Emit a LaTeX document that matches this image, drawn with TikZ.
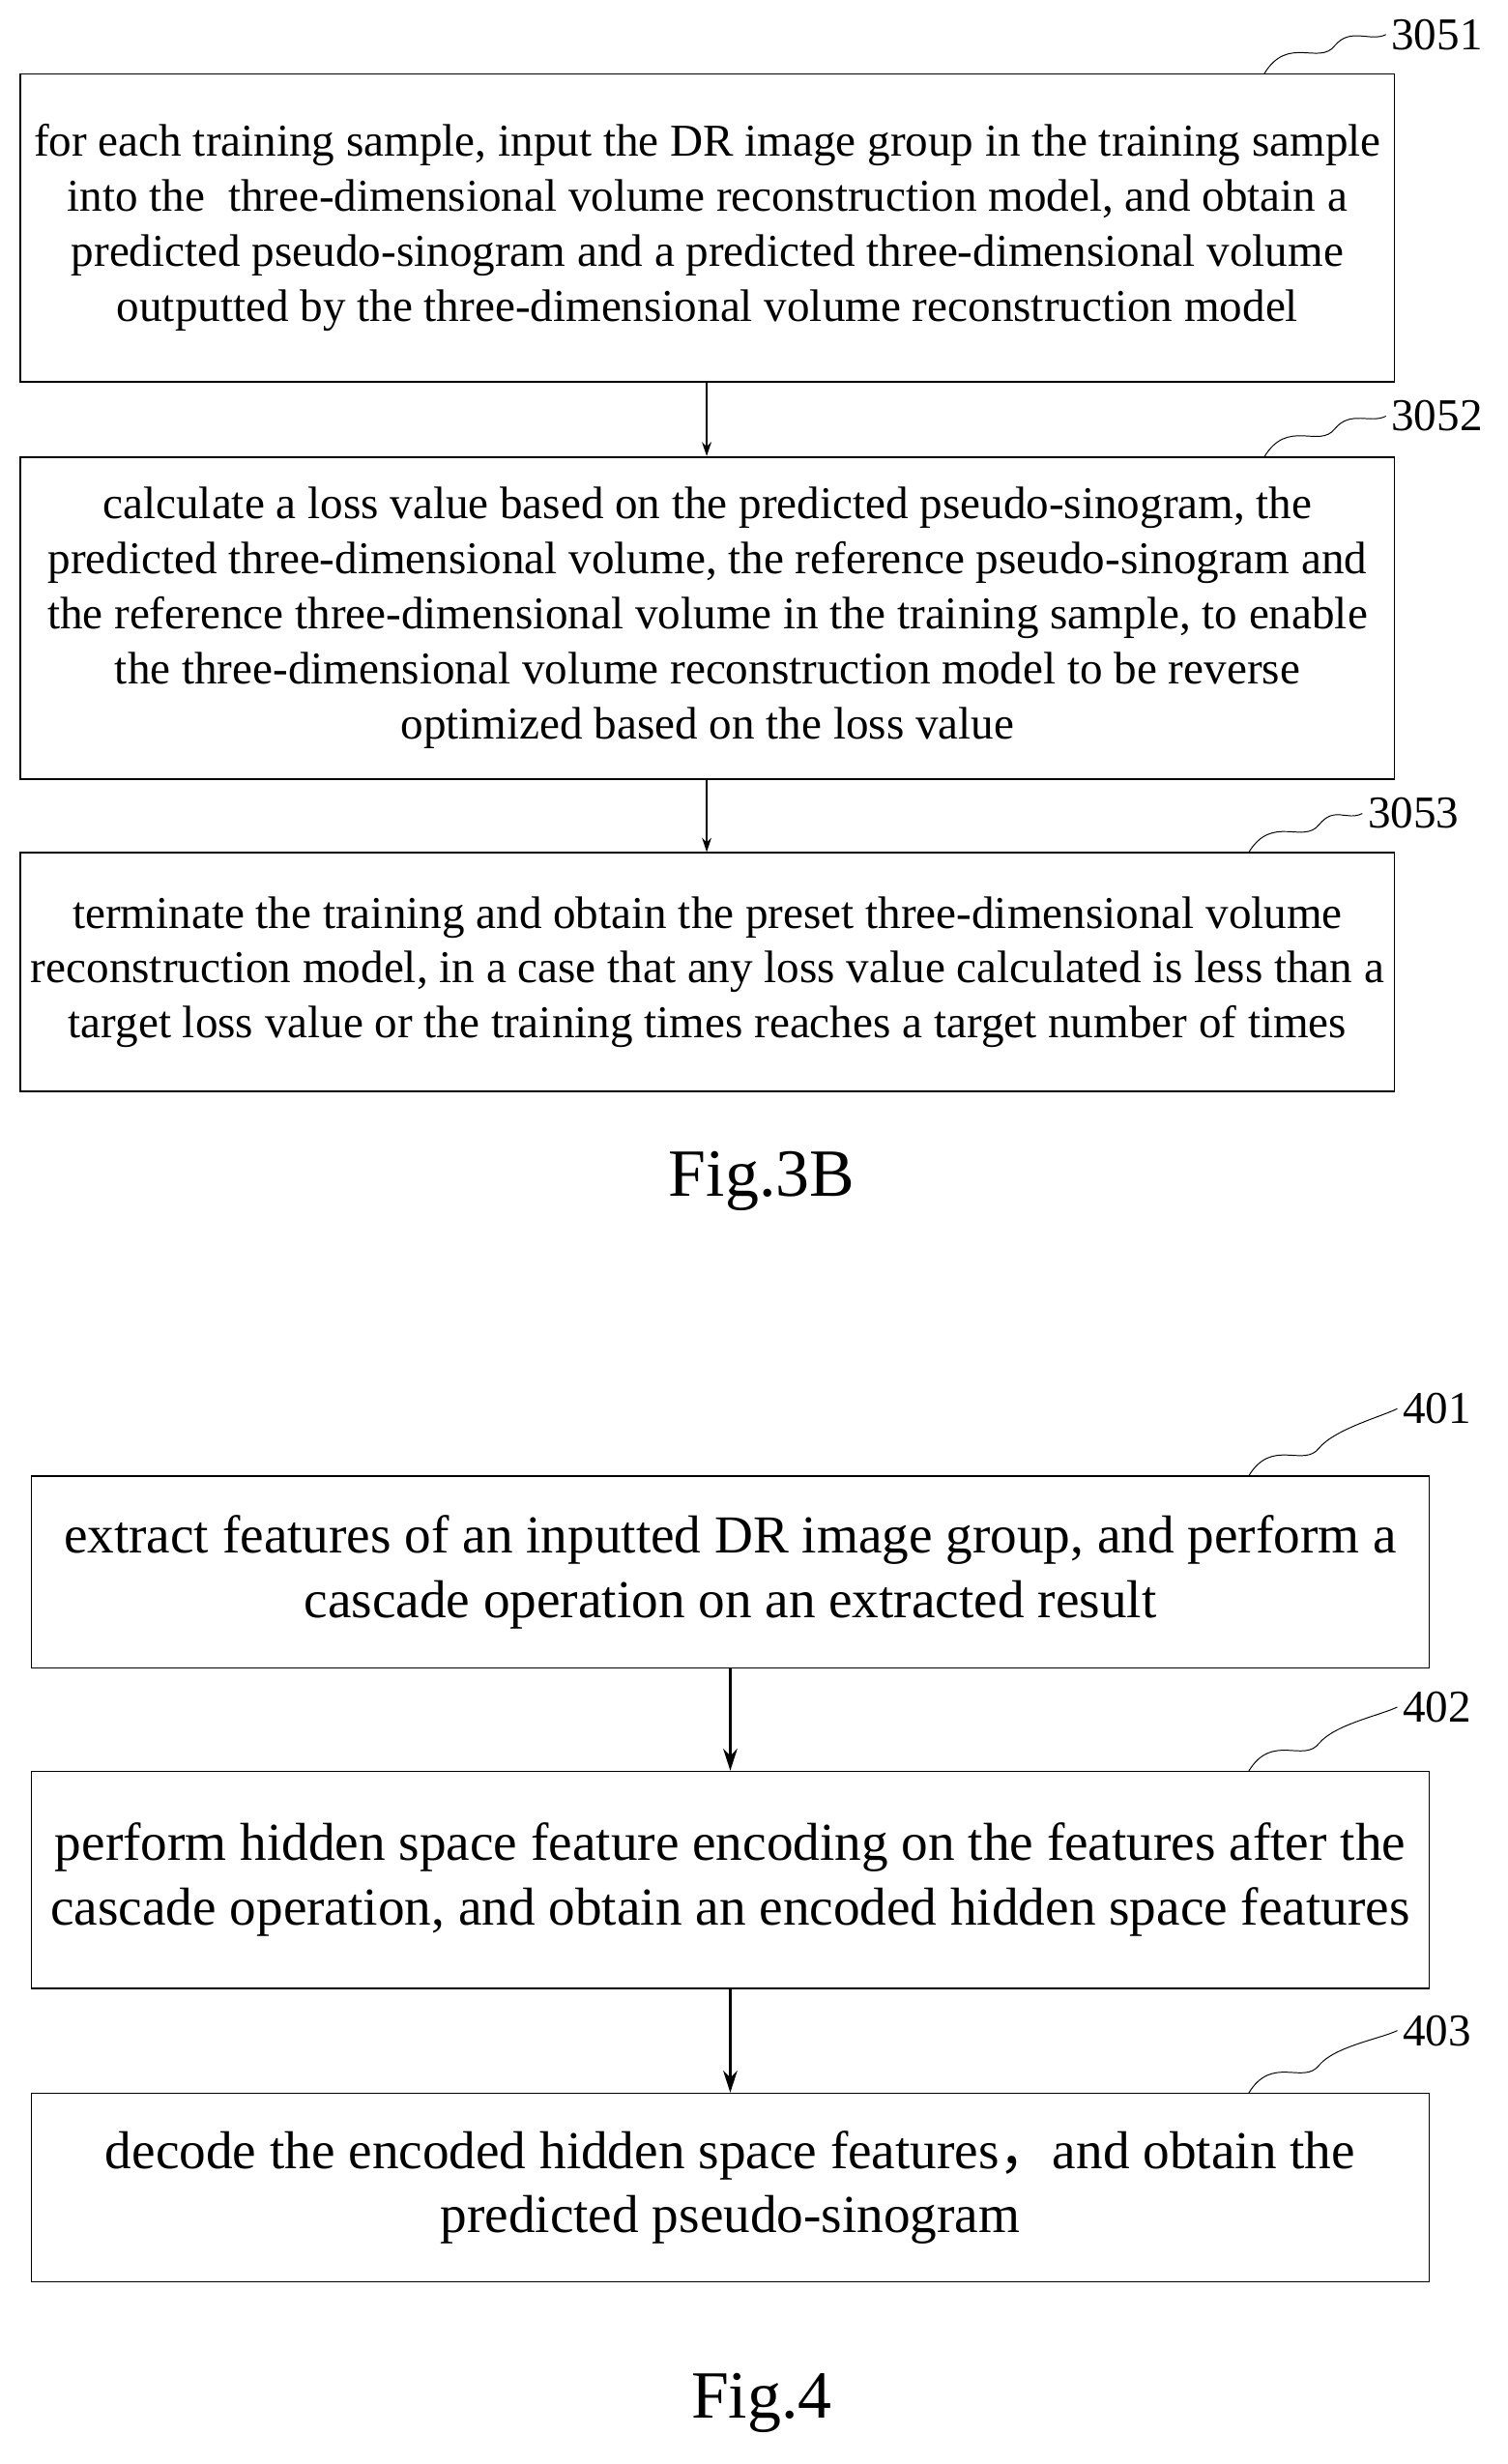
\documentclass[tikz,border=0pt]{standalone}
\usepackage{fontspec}
\setmainfont{Liberation Serif}
\newfontfamily\cjk{Noto Sans CJK SC}
\usetikzlibrary{arrows.meta,calc}
\begin{document}
\begin{tikzpicture}[x=1pt,y=-1pt,
  boxa/.style={draw,line width=1pt,minimum width=875pt,align=center,font=\fontsize{29}{35}\selectfont,inner sep=0pt},
  boxb/.style={draw,line width=1pt,minimum width=890pt,align=center,font=\fontsize{34}{41}\selectfont,inner sep=0pt},
  lbl/.style={font=\fontsize{29}{30}\selectfont},
  wav/.style={line width=0.6pt},
  arra/.style={-{Stealth[length=9pt,width=6pt]},line width=0.8pt},
  arrb/.style={-{Stealth[length=14pt,width=9pt]},line width=1.5pt}]
\useasboundingbox (0,0) rectangle (960,1569);
\node[boxa,minimum height=196pt] (b1) at (450.5,145) {for each training sample, input the DR image group in the training sample\\into the\ \ three-dimensional volume reconstruction model, and obtain a\\predicted pseudo-sinogram and a predicted three-dimensional volume\\outputted by the three-dimensional volume reconstruction model};
\node[boxa,minimum height=205pt] (b2) at (450.5,393.5) {calculate a loss value based on the predicted pseudo-sinogram, the\\predicted three-dimensional volume, the reference pseudo-sinogram and\\the reference three-dimensional volume in the training sample, to enable\\the three-dimensional volume reconstruction model to be reverse\\optimized based on the loss value};
\node[boxa,minimum height=152pt] (b3) at (450.5,619) {terminate the training and obtain the preset three-dimensional volume\\reconstruction model, in a case that any loss value calculated is less than a\\target loss value or the training times reaches a target number of times};
\node[font=\fontsize{43}{45}\selectfont] (f3) at (485,752) {Fig.3B};
\node[boxb,minimum height=122pt] (b4) at (465,1001) {extract features of an inputted DR image group, and perform a\\cascade operation on an extracted result};
\node[boxb,minimum height=138pt] (b5) at (465,1197) {perform hidden space feature encoding on the features after the\\cascade operation, and obtain an encoded hidden space features};
\node[boxb,minimum height=120pt] (b6) at (465,1393) {decode the encoded hidden space features{\cjk ，}and obtain the\\predicted pseudo-sinogram};
\node[font=\fontsize{43}{45}\selectfont] (f4) at (485,1530) {Fig.4};
\draw[arra] (b1.south -| 450,0) -- (b2.north -| 450,0);
\draw[arra] (b2.south -| 450,0) -- (b3.north -| 450,0);
\draw[arrb] (b4.south -| 465,0) -- (b5.north -| 465,0);
\draw[arrb] (b5.south -| 465,0) -- (b6.north -| 465,0);
\node[lbl] (l1) at (915,22) {3051};
\node[lbl] (l2) at (915,265) {3052};
\node[lbl] (l3) at (900,518) {3053};
\node[lbl] (l4) at (915,897) {401};
\node[lbl] (l5) at (915,1087) {402};
\node[lbl] (l6) at (915,1293) {403};
\coordinate (w1) at (805,47); \coordinate (w2) at (805,291); \coordinate (w3) at (795,543);
\coordinate (w4) at (795,940); \coordinate (w5) at (795,1128); \coordinate (w6) at (795,1333);
\foreach \w/\l in {w1/l1,w2/l2,w3/l3,w4/l4,w5/l5,w6/l6}{
  \draw[wav] (\w) .. controls ($(\w)+(15,-25)$) and ($(\w)+(35,-5)$) .. ($(\w)+(45,-18)$) .. controls ($(\w)+(55,-30)$) and ($(\l.west)+(-10,5)$) .. (\l.west);
}
\end{tikzpicture}
\end{document}
